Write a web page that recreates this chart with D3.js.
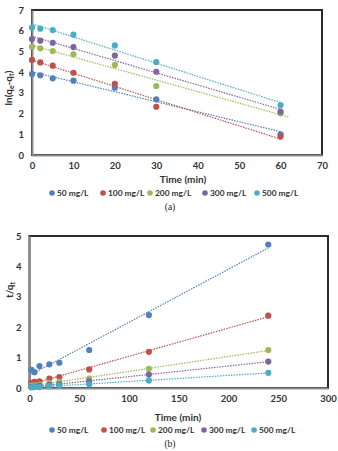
<!DOCTYPE html>
<html><head><meta charset="utf-8">
<script src="https://cdn.jsdelivr.net/npm/d3@7/dist/d3.min.js"></script>
<style>
html,body{margin:0;padding:0;background:#fff;}
svg{display:block;}
</style></head>
<body>
<svg id="c" width="338" height="451"></svg>
<script>
// ---------- DATA ----------
const seriesNames = ["50 mg/L","100 mg/L","200 mg/L","300 mg/L","500 mg/L"];
const seriesColors = ["#4F81BD","#C0504D","#9BBB59","#8064A2","#4BACC6"];

// (a) pseudo-first-order: ln(qe-qt) vs time
const timeA = [0,2,5,10,20,30,60];
const lnA_50  = [3.91,3.85,3.70,3.59,3.25,2.69,1.00];
const lnA_100 = [4.59,4.47,4.31,3.97,3.44,2.33,0.89];
const lnA_200 = [5.23,5.15,5.02,4.86,4.35,3.33,2.01];
const lnA_300 = [5.60,5.52,5.42,5.21,4.80,4.02,2.09];
const lnA_500 = [6.15,6.10,6.03,5.81,5.29,4.49,2.41];
const trendEndA = [60,60,62,60,60];
const xTicksA = [0,10,20,30,40,50,60,70];
const yTicksA = [0,1,2,3,4,5,6,7];

// (b) pseudo-second-order: t/qt vs time
const timeB = [2,5,10,20,30,60,120,240];
const tqB_50  = [0.60,0.52,0.72,0.78,0.83,1.25,2.40,4.72];
const tqB_100 = [0.17,0.20,0.22,0.31,0.36,0.61,1.19,2.38];
const tqB_200 = [0.08,0.09,0.11,0.17,0.20,0.31,0.63,1.25];
const tqB_300 = [0.04,0.05,0.07,0.10,0.12,0.22,0.44,0.87];
const tqB_500 = [0.02,0.03,0.03,0.06,0.08,0.12,0.245,0.50];
const xTicksB = [0,50,100,150,200,250,300];
const yTicksB = [0,1,2,3,4,5];

// ---------- DRAW ----------
const svg = d3.select("#c");
const FONT = "Lato, 'Open Sans', 'Liberation Sans', Arial, sans-serif";

function linreg(xs, ys){
  const n = xs.length, mx = d3.mean(xs), my = d3.mean(ys);
  let sxy = 0, sxx = 0;
  for (let i=0;i<n;i++){ sxy += (xs[i]-mx)*(ys[i]-my); sxx += (xs[i]-mx)**2; }
  const m = sxy/sxx; return {m, b: my - m*mx};
}

function drawChart(cfg){
  const g = svg.append("g");
  const x = d3.scaleLinear().domain(cfg.xDomain).range(cfg.xRange);
  const y = d3.scaleLinear().domain(cfg.yDomain).range(cfg.yRange);

  // plot area frame
  g.append("rect")
    .attr("x", cfg.xRange[0]).attr("y", cfg.yRange[1])
    .attr("width", cfg.xRange[1]-cfg.xRange[0]).attr("height", cfg.yRange[0]-cfg.yRange[1])
    .attr("fill","none").attr("stroke","#2b2b2b").attr("stroke-width",2);

  // axes
  const fmt = d3.format("d");
  const xa = g.append("g").attr("transform",`translate(0,${cfg.yRange[0]})`)
    .call(d3.axisBottom(x).tickValues(cfg.xTicks).tickFormat(fmt).tickSize(0).tickPadding(7));
  const ya = g.append("g").attr("transform",`translate(${cfg.xRange[0]},0)`)
    .call(d3.axisLeft(y).tickValues(cfg.yTicks).tickFormat(fmt).tickSize(0).tickPadding(8));
  [xa, ya].forEach(a=>{
    a.select(".domain").attr("stroke","#8c8c8c").attr("stroke-width",2);
    a.selectAll("text").attr("font-family",FONT).attr("font-weight","bold")
      .attr("font-size","9.5px").attr("fill","#333");
  });

  // trendlines
  cfg.series.forEach((ys,i)=>{
    const r = linreg(cfg.xs, ys);
    const x0 = d3.min(cfg.xs), x1 = cfg.trendEnd ? cfg.trendEnd[i] : d3.max(cfg.xs);
    g.append("line")
      .attr("x1", x(x0)).attr("y1", y(r.m*x0+r.b))
      .attr("x2", x(x1)).attr("y2", y(r.m*x1+r.b))
      .attr("stroke", seriesColors[i]).attr("stroke-width",1.2)
      .attr("stroke-dasharray","1.5,1.2");
  });
  // points
  cfg.series.forEach((ys,i)=>{
    g.append("g").selectAll("circle").data(ys).join("circle")
      .attr("cx",(d,j)=>x(cfg.xs[j])).attr("cy",d=>y(d))
      .attr("r",3.1).attr("fill",seriesColors[i]);
  });

  // axis titles
  g.append("text").attr("x", cfg.xTitlePos[0]).attr("y", cfg.xTitlePos[1])
    .attr("text-anchor","middle").attr("font-family",FONT).attr("font-weight","bold")
    .attr("font-size","10px").attr("fill","#333").text("Time (min)");
  cfg.yTitle(g);

  // legend
  const lg = g.append("g");
  seriesNames.forEach((nm,i)=>{
    lg.append("circle").attr("cx", cfg.legendX[i]).attr("cy", cfg.legendY).attr("r",2.8)
      .attr("fill", seriesColors[i]);
    lg.append("text").attr("x", cfg.legendX[i]+5).attr("y", cfg.legendY)
      .attr("dy","0.35em").attr("font-family",FONT).attr("font-weight","bold")
      .attr("font-size","8.4px").attr("fill","#333").text(nm);
  });

  // caption
  g.append("text").attr("x", cfg.caption[0]).attr("y", cfg.caption[1])
    .attr("text-anchor","middle").attr("font-family","'Liberation Serif','DejaVu Serif',serif")
    .attr("font-size","9.5px").attr("fill","#222").text(cfg.captionText);
}

drawChart({
  xs: timeA, series:[lnA_50,lnA_100,lnA_200,lnA_300,lnA_500], trendEnd: trendEndA,
  xDomain:[0,70], xRange:[32,322], yDomain:[0,7], yRange:[155,10],
  xTicks:xTicksA, yTicks:yTicksA,
  xTitlePos:[183,183],
  yTitle: g=>{
    const t = g.append("text").attr("transform","translate(12,88) rotate(-90)")
      .attr("text-anchor","middle").attr("font-family",FONT).attr("font-weight","bold")
      .attr("font-size","10px").attr("fill","#333");
    t.append("tspan").text("ln(q");
    t.append("tspan").attr("font-size","7px").attr("dy","2").text("e");
    t.append("tspan").attr("dy","-2").text("-q");
    t.append("tspan").attr("font-size","7px").attr("dy","2").text("t");
    t.append("tspan").attr("dy","-2").text(")");
  },
  legendX:[52,103,150,205,257], legendY:193,
  caption:[170,210], captionText:"(a)"
});

drawChart({
  xs: timeB, series:[tqB_50,tqB_100,tqB_200,tqB_300,tqB_500],
  xDomain:[0,300], xRange:[29.5,328], yDomain:[0,5], yRange:[388,236],
  xTicks:xTicksB, yTicks:yTicksB,
  xTitlePos:[178,421],
  yTitle: g=>{
    const t = g.append("text").attr("transform","translate(13,290) rotate(-90)")
      .attr("text-anchor","middle").attr("font-family",FONT).attr("font-weight","bold")
      .attr("font-size","10px").attr("fill","#333");
    t.append("tspan").text("t/q");
    t.append("tspan").attr("font-size","7px").attr("dy","2").text("t");
  },
  legendX:[52,104,153,204,254], legendY:430,
  caption:[170,447], captionText:"(b)"
});
</script>
</body></html>
